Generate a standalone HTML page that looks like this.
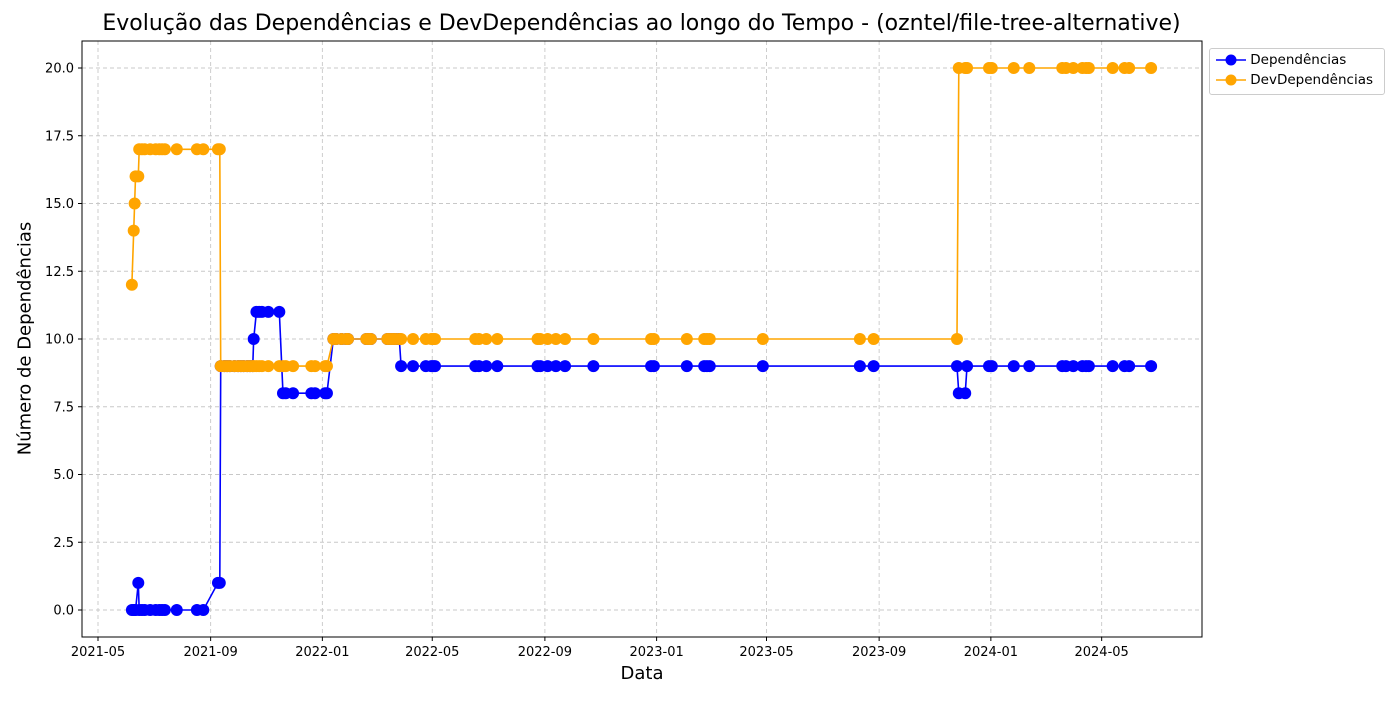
<!DOCTYPE html>
<html><head><meta charset="utf-8"><style>
body{margin:0;background:#fff;font-family:"Liberation Sans","DejaVu Sans",sans-serif}
svg text{font-family:"DejaVu Sans","Liberation Sans",sans-serif}
</style></head><body>
<svg id="c" width="1400" height="700" xmlns="http://www.w3.org/2000/svg"></svg>
<script>
const startDate = '2021-05-01';
const dayIndex = [37,39,40,41,44,45,48,51,57,63,67,70,73,86,108,115,131,133,134,138,141,144,149,153,156,159,163,166,169,170,173,176,179,186,198,202,205,213,233,237,248,250,257,260,266,271,273,293,296,298,316,319,322,325,329,331,344,358,364,366,368,412,416,424,436,480,483,491,500,510,541,604,607,643,662,665,668,726,832,847,938,940,947,949,973,976,1000,1017,1053,1057,1065,1075,1079,1082,1108,1121,1126,1150];
const depValues = [0,0,0,0,1,0,0,0,0,0,0,0,0,0,0,0,1,1,9,9,9,9,9,9,9,9,9,9,9,10,11,11,11,11,11,8,8,8,8,8,8,8,10,10,10,10,10,10,10,10,10,10,10,10,10,9,9,9,9,9,9,9,9,9,9,9,9,9,9,9,9,9,9,9,9,9,9,9,9,9,9,8,8,9,9,9,9,9,9,9,9,9,9,9,9,9,9,9];
const devValues = [12,14,15,16,16,17,17,17,17,17,17,17,17,17,17,17,17,17,9,9,9,9,9,9,9,9,9,9,9,9,9,9,9,9,9,9,9,9,9,9,9,9,10,10,10,10,10,10,10,10,10,10,10,10,10,10,10,10,10,10,10,10,10,10,10,10,10,10,10,10,10,10,10,10,10,10,10,10,10,10,10,20,20,20,20,20,20,20,20,20,20,20,20,20,20,20,20,20];
const xTickLabels = ['2021-05','2021-09','2022-01','2022-05','2022-09','2023-01','2023-05','2023-09','2024-01','2024-05'];
const yTicks = [0,2.5,5,7.5,10,12.5,15,17.5,20];

const svg = document.getElementById('c');
const NS = 'http://www.w3.org/2000/svg';
const L=82,R=1202,T=41,B=637;
const t0 = Date.parse(startDate+'T00:00:00Z');
const xScale = d => 98 + d/1.092;
const dateDays = s => (Date.parse(s+'-01T00:00:00Z')-t0)/86400000;
const yScale = v => 610 - v*27.1;
function mk(tag, attrs, parent){const e=document.createElementNS(NS,tag);for(const k in attrs)e.setAttribute(k,attrs[k]);(parent||svg).appendChild(e);return e;}

const grid = mk('g',{});


xTickLabels.forEach(s=>{
  const x=xScale(dateDays(s));
  mk('line',{x1:x,x2:x,y1:T,y2:B,stroke:'#c8c8c8','stroke-dasharray':'4,3','stroke-width':0.9},grid);
  mk('line',{x1:x,x2:x,y1:B,y2:B+4,stroke:'#000'});
  const t=mk('text',{x:x,y:B+19,'text-anchor':'middle','font-size':13});
  t.textContent=s;
  
  
});
yTicks.forEach(v=>{
  const y=yScale(v);
  mk('line',{x1:L,x2:R,y1:y,y2:y,stroke:'#c8c8c8','stroke-dasharray':'4,3','stroke-width':0.9},grid);
  mk('line',{x1:L-4,x2:L,y1:y,y2:y,stroke:'#000'});
  const t=mk('text',{x:L-8,y:y+4.5,'text-anchor':'end','font-size':13});
  t.textContent=v.toFixed(1);
  
  
});

function series(vals,color,name){
  const g=mk('g',{});
  
  
  mk('polyline',{points:dayIndex.map((d,i)=>xScale(d)+','+yScale(vals[i])).join(' '),fill:'none',stroke:color,'stroke-width':1.6},g);
  dayIndex.forEach((d,i)=>{
    const c=mk('circle',{cx:xScale(d),cy:yScale(vals[i]),r:6,fill:color},g);
    
    
  });
}
series(depValues,'#0000ff','dependencias-series');
series(devValues,'#ffa500','devdependencias-series');

const frame=mk('rect',{x:L,y:T,width:R-L,height:B-T,fill:'none',stroke:'#000','stroke-width':1});


</script>
<div style="position:absolute;left:0;top:0;width:1400px;height:700px;pointer-events:none">
<div style="position:absolute;top:11px;left:0;width:1283px;text-align:center;font-family:'DejaVu Sans',sans-serif;font-size:22px;white-space:nowrap">Evolução das Dependências e DevDependências ao longo do Tempo - (ozntel/file-tree-alternative)</div>
<div style="position:absolute;top:663px;left:82px;width:1120px;text-align:center;font-family:'DejaVu Sans',sans-serif;font-size:18px">Data</div>
<div style="position:absolute;left:-175px;top:328px;width:400px;text-align:center;transform:rotate(-90deg);font-family:'DejaVu Sans',sans-serif;font-size:18px;white-space:nowrap">Número de Dependências</div>
<div style="position:absolute;left:1209px;top:48px;width:174px;height:45px;border:1px solid #ccc;border-radius:3px;background:#fff;font-family:'DejaVu Sans',sans-serif;font-size:13.5px">
 <div style="position:absolute;left:6px;top:3px;white-space:nowrap"><svg width="30" height="12" style="vertical-align:middle"><line x1="0" y1="6" x2="30" y2="6" stroke="#0000ff" stroke-width="1.6"/><circle cx="15" cy="6" r="5.5" fill="#0000ff"/></svg> Dependências</div>
 <div style="position:absolute;left:6px;top:23px;white-space:nowrap"><svg width="30" height="12" style="vertical-align:middle"><line x1="0" y1="6" x2="30" y2="6" stroke="#ffa500" stroke-width="1.6"/><circle cx="15" cy="6" r="5.5" fill="#ffa500"/></svg> DevDependências</div>
</div>
</div>
</body></html>
